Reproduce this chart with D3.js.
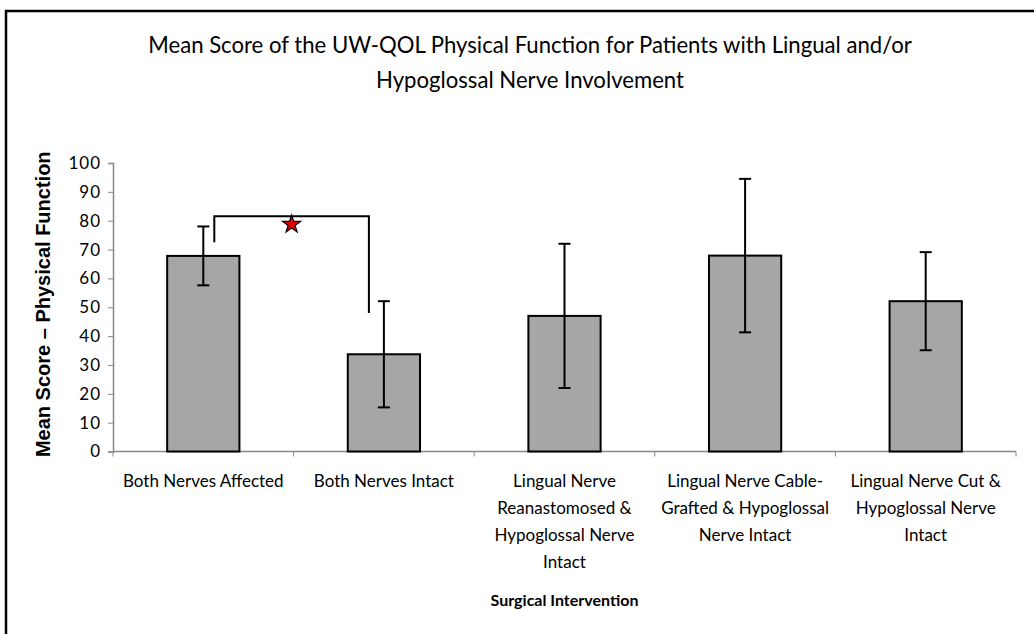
<!DOCTYPE html>
<html>
<head>
<meta charset="utf-8">
<script src="https://cdn.jsdelivr.net/npm/d3@7"></script>
<style>
  body { margin: 0; background: #fff; }
  text { font-family: Lato, 'Open Sans', sans-serif; fill: #000; }
</style>
</head>
<body>
<div id="chart"></div>
<script>
const categories = [
  ['Both Nerves Affected'],
  ['Both Nerves Intact'],
  ['Lingual Nerve', 'Reanastomosed &', 'Hypoglossal Nerve', 'Intact'],
  ['Lingual Nerve Cable-', 'Grafted & Hypoglossal', 'Nerve Intact'],
  ['Lingual Nerve Cut &', 'Hypoglossal Nerve', 'Intact']
]
const means = [67.8, 33.7, 47.0, 67.9, 52.1]
const errors = [10.2, 18.4, 25.0, 26.6, 17.0]
const yTicks = [0, 10, 20, 30, 40, 50, 60, 70, 80, 90, 100]
const titleLines = [
  'Mean Score of the UW-QOL Physical Function for Patients with Lingual and/or',
  'Hypoglossal Nerve Involvement'
]
// significance bracket between first two groups
const bracket = { from: 0, to: 1, top: 81.5, leftEnd: 72.5, rightEnd: 48 }

const width = 1034
const height = 634
const margin = { top: 163, left: 113, right: 18, bottom: 183 }

const svg = d3
  .select('#chart')
  .append('svg')
  .attr('width', width)
  .attr('height', height)

// outer frame (runs off the right and bottom edge)
svg
  .append('rect')
  .attr('x', 6)
  .attr('y', 11)
  .attr('width', width + 20)
  .attr('height', height + 20)
  .attr('fill', 'none')
  .attr('stroke', '#000')
  .attr('stroke-width', 2.5)

const x = d3
  .scaleBand()
  .domain(d3.range(categories.length))
  .range([margin.left, width - margin.right])

const y = d3
  .scaleLinear()
  .domain([0, 100])
  .range([height - margin.bottom + 0.5, margin.top])

const barW = x.bandwidth() / 2.5
const cx = i => x(i) + x.bandwidth() / 2

// title, squeezed horizontally to look like a condensed face
const titles = svg
  .selectAll('.title')
  .data(titleLines)
  .enter()
  .append('text')
  .attr('class', 'title')
  .attr('text-anchor', 'middle')
  .attr('font-size', 24)
  .text(d => d)
const squeeze = 764 / titles.node().getComputedTextLength()
titles.attr('transform', (d, i) => `translate(530,${53 + i * 35}) scale(${squeeze},1)`)

// y axis
const yAxis = svg
  .append('g')
  .attr('transform', `translate(${margin.left},0)`)
  .call(d3.axisLeft(y).tickValues(yTicks).tickSize(5).tickPadding(7))
yAxis.select('.domain').attr('stroke', '#888').attr('stroke-width', 1.5)
yAxis.selectAll('.tick line').attr('stroke', '#888')
yAxis
  .selectAll('.tick text')
  .attr('font-family', 'Lato, sans-serif')
  .attr('font-size', 17)
  .attr('letter-spacing', 1)
  .attr('fill', '#000')

// x axis
const xAxisY = y(0)
svg
  .append('line')
  .attr('x1', margin.left)
  .attr('x2', width - margin.right)
  .attr('y1', xAxisY)
  .attr('y2', xAxisY)
  .attr('stroke', '#888')
  .attr('stroke-width', 1.5)
svg
  .selectAll('.xtick')
  .data(d3.range(categories.length + 1))
  .enter()
  .append('line')
  .attr('class', 'xtick')
  .attr('x1', i => (i < categories.length ? x(i) : x(i - 1) + x.bandwidth()))
  .attr('x2', i => (i < categories.length ? x(i) : x(i - 1) + x.bandwidth()))
  .attr('y1', xAxisY)
  .attr('y2', xAxisY + 5)
  .attr('stroke', '#888')

// bars
svg
  .selectAll('.bar')
  .data(means)
  .enter()
  .append('rect')
  .attr('class', 'bar')
  .attr('x', (d, i) => cx(i) - barW / 2)
  .attr('y', d => y(d))
  .attr('width', barW)
  .attr('height', d => y(0) - y(d))
  .attr('fill', '#a6a6a6')
  .attr('stroke', '#000')
  .attr('stroke-width', 2)

// error bars
const eb = svg
  .selectAll('.err')
  .data(means)
  .enter()
  .append('g')
  .attr('class', 'err')
  .attr('stroke', '#000')
  .attr('stroke-width', 2)
eb.append('line')
  .attr('x1', (d, i) => cx(i))
  .attr('x2', (d, i) => cx(i))
  .attr('y1', (d, i) => y(d + errors[i]))
  .attr('y2', (d, i) => y(d - errors[i]))
eb.append('line')
  .attr('x1', (d, i) => cx(i) - 6)
  .attr('x2', (d, i) => cx(i) + 6)
  .attr('y1', (d, i) => y(d + errors[i]))
  .attr('y2', (d, i) => y(d + errors[i]))
eb.append('line')
  .attr('x1', (d, i) => cx(i) - 6)
  .attr('x2', (d, i) => cx(i) + 6)
  .attr('y1', (d, i) => y(d - errors[i]))
  .attr('y2', (d, i) => y(d - errors[i]))

// x labels
categories.forEach((lines, i) => {
  const t = svg
    .append('text')
    .attr('x', cx(i))
    .attr('y', 487)
    .attr('text-anchor', 'middle')
    .attr('font-size', 17)
  lines.forEach((l, k) => {
    t.append('tspan')
      .attr('x', cx(i))
      .attr('dy', k === 0 ? 0 : 27)
      .text(l)
  })
})

svg
  .append('text')
  .attr('x', (margin.left + width - margin.right) / 2)
  .attr('y', 606)
  .attr('text-anchor', 'middle')
  .attr('font-size', 16)
  .attr('font-weight', 'bold')
  .text('Surgical Intervention')

// y title
svg
  .append('text')
  .attr('transform', `translate(50,${(y(0) + y(100)) / 2 - 3}) rotate(-90)`)
  .attr('text-anchor', 'middle')
  .attr('font-weight', 'bold')
  .attr('font-size', 20)
  .style('font-family', "'Liberation Sans', Arial, sans-serif")
  .text('Mean Score \u2013 Physical Function')

// significance bracket
const bx1 = cx(bracket.from) + 11
const bx2 = cx(bracket.to) - 15
svg
  .append('path')
  .attr(
    'd',
    `M${bx1},${y(bracket.leftEnd)}V${y(bracket.top)}H${bx2}V${y(bracket.rightEnd)}`
  )
  .attr('fill', 'none')
  .attr('stroke', '#000')
  .attr('stroke-width', 2)

svg
  .append('path')
  .attr('d', d3.symbol(d3.symbolStar, 100)())
  .attr('transform', `translate(${(bx1 + bx2) / 2},${y(bracket.top) + 8})`)
  .attr('fill', '#e00000')
  .attr('stroke', '#000')
  .attr('stroke-width', 1.2)
</script>
</body>
</html>
